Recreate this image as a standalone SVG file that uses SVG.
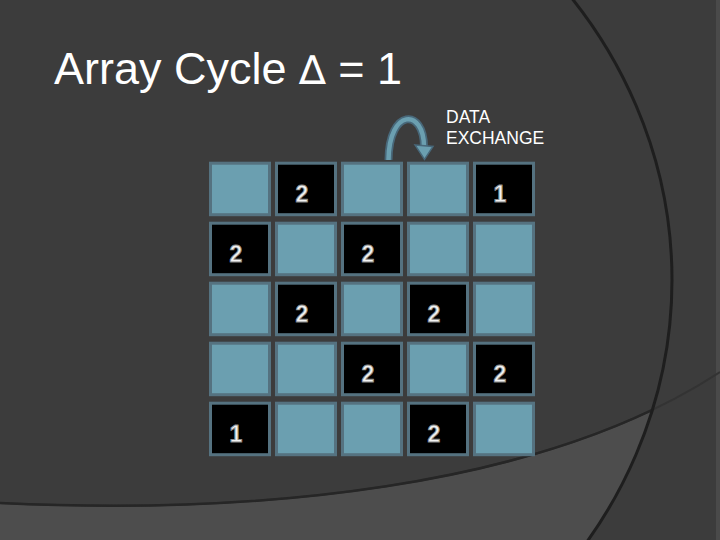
<svg xmlns="http://www.w3.org/2000/svg" width="720" height="540" viewBox="0 0 720 540">
  <defs>
    <style>
      .cell { stroke: #557280; stroke-width: 3; }
      .lt { fill: #6b9fb0; }
      .dk { fill: #000000; }
      .num { font-family: "Liberation Sans", Arial, sans-serif; font-size: 23px; font-weight: bold; fill: #f2f2f2; stroke: #8c8c8c; stroke-width: 0.9; text-anchor: middle; }
      .title { font-family: "Liberation Sans", Arial, sans-serif; font-size: 45px; fill: #ffffff; }
      .label { font-family: "Liberation Sans", Arial, sans-serif; font-size: 17.5px; fill: #ffffff; }
    </style>
    <clipPath id="inEllipse">
      <ellipse cx="160" cy="280" rx="512" ry="474"/>
    </clipPath>
  </defs>

  <!-- background -->
  <rect x="0" y="0" width="720" height="540" fill="#3c3c3c"/>
  <rect x="716" y="0" width="4" height="540" fill="#4a4a4a"/>
  <path d="M0 503 C250 515 540 490 720 372 L720 540 L0 540 Z" fill="#4d4d4d" clip-path="url(#inEllipse)"/>
  <path d="M0 503 C250 515 540 490 720 372" fill="none" stroke="#333333" stroke-width="2"/>
  <path d="M0 503 C250 515 540 490 720 372" fill="none" stroke="#262626" stroke-width="2.5" clip-path="url(#inEllipse)"/>
  <ellipse cx="160" cy="280" rx="512" ry="474" fill="none" stroke="#1e1e1e" stroke-width="3"/>

  <!-- title -->
  <text class="title" x="54" y="84">Array Cycle <tspan font-weight="normal" font-family="'DejaVu Sans', sans-serif" font-size="40">∆</tspan> = 1</text>
  <text class="label" x="446" y="123">DATA</text>
  <text class="label" x="446" y="144">EXCHANGE</text>

  <!-- connectors -->
  <g id="connectors">
    <path d="M388.5 160 C389 108 424 108 424 147" fill="none" stroke="#48687a" stroke-width="8"/>
    <path d="M388.5 160 C389 108 424 108 424 147" fill="none" stroke="#6b9fb0" stroke-width="4.5"/>
    <polygon points="415,145 433,146.5 424.5,159.5" fill="#6b9fb0" stroke="#48687a" stroke-width="1.5"/>
  </g>

  <!-- row 1 -->
  <g id="r1c1"><rect class="cell lt" x="210.5" y="163.2" width="59" height="51.5"/></g>
  <g id="r1c2"><rect class="cell dk" x="276.5" y="163.2" width="59" height="51.5"/><text class="num" x="302" y="201.5">2</text></g>
  <g id="r1c3"><rect class="cell lt" x="342.5" y="163.2" width="59" height="51.5"/></g>
  <g id="r1c4"><rect class="cell lt" x="408.5" y="163.2" width="59" height="51.5"/></g>
  <g id="r1c5"><rect class="cell dk" x="474.5" y="163.2" width="59" height="51.5"/><text class="num" x="500" y="201.5">1</text></g>
  <!-- row 2 -->
  <g id="r2c1"><rect class="cell dk" x="210.5" y="223.2" width="59" height="51.5"/><text class="num" x="236" y="261.5">2</text></g>
  <g id="r2c2"><rect class="cell lt" x="276.5" y="223.2" width="59" height="51.5"/></g>
  <g id="r2c3"><rect class="cell dk" x="342.5" y="223.2" width="59" height="51.5"/><text class="num" x="368" y="261.5">2</text></g>
  <g id="r2c4"><rect class="cell lt" x="408.5" y="223.2" width="59" height="51.5"/></g>
  <g id="r2c5"><rect class="cell lt" x="474.5" y="223.2" width="59" height="51.5"/></g>
  <!-- row 3 -->
  <g id="r3c1"><rect class="cell lt" x="210.5" y="283.2" width="59" height="51.5"/></g>
  <g id="r3c2"><rect class="cell dk" x="276.5" y="283.2" width="59" height="51.5"/><text class="num" x="302" y="321.5">2</text></g>
  <g id="r3c3"><rect class="cell lt" x="342.5" y="283.2" width="59" height="51.5"/></g>
  <g id="r3c4"><rect class="cell dk" x="408.5" y="283.2" width="59" height="51.5"/><text class="num" x="434" y="321.5">2</text></g>
  <g id="r3c5"><rect class="cell lt" x="474.5" y="283.2" width="59" height="51.5"/></g>
  <!-- row 4 -->
  <g id="r4c1"><rect class="cell lt" x="210.5" y="343.2" width="59" height="51.5"/></g>
  <g id="r4c2"><rect class="cell lt" x="276.5" y="343.2" width="59" height="51.5"/></g>
  <g id="r4c3"><rect class="cell dk" x="342.5" y="343.2" width="59" height="51.5"/><text class="num" x="368" y="381.5">2</text></g>
  <g id="r4c4"><rect class="cell lt" x="408.5" y="343.2" width="59" height="51.5"/></g>
  <g id="r4c5"><rect class="cell dk" x="474.5" y="343.2" width="59" height="51.5"/><text class="num" x="500" y="381.5">2</text></g>
  <!-- row 5 -->
  <g id="r5c1"><rect class="cell dk" x="210.5" y="403.2" width="59" height="51.5"/><text class="num" x="236" y="441.5">1</text></g>
  <g id="r5c2"><rect class="cell lt" x="276.5" y="403.2" width="59" height="51.5"/></g>
  <g id="r5c3"><rect class="cell lt" x="342.5" y="403.2" width="59" height="51.5"/></g>
  <g id="r5c4"><rect class="cell dk" x="408.5" y="403.2" width="59" height="51.5"/><text class="num" x="434" y="441.5">2</text></g>
  <g id="r5c5"><rect class="cell lt" x="474.5" y="403.2" width="59" height="51.5"/></g>
</svg>
